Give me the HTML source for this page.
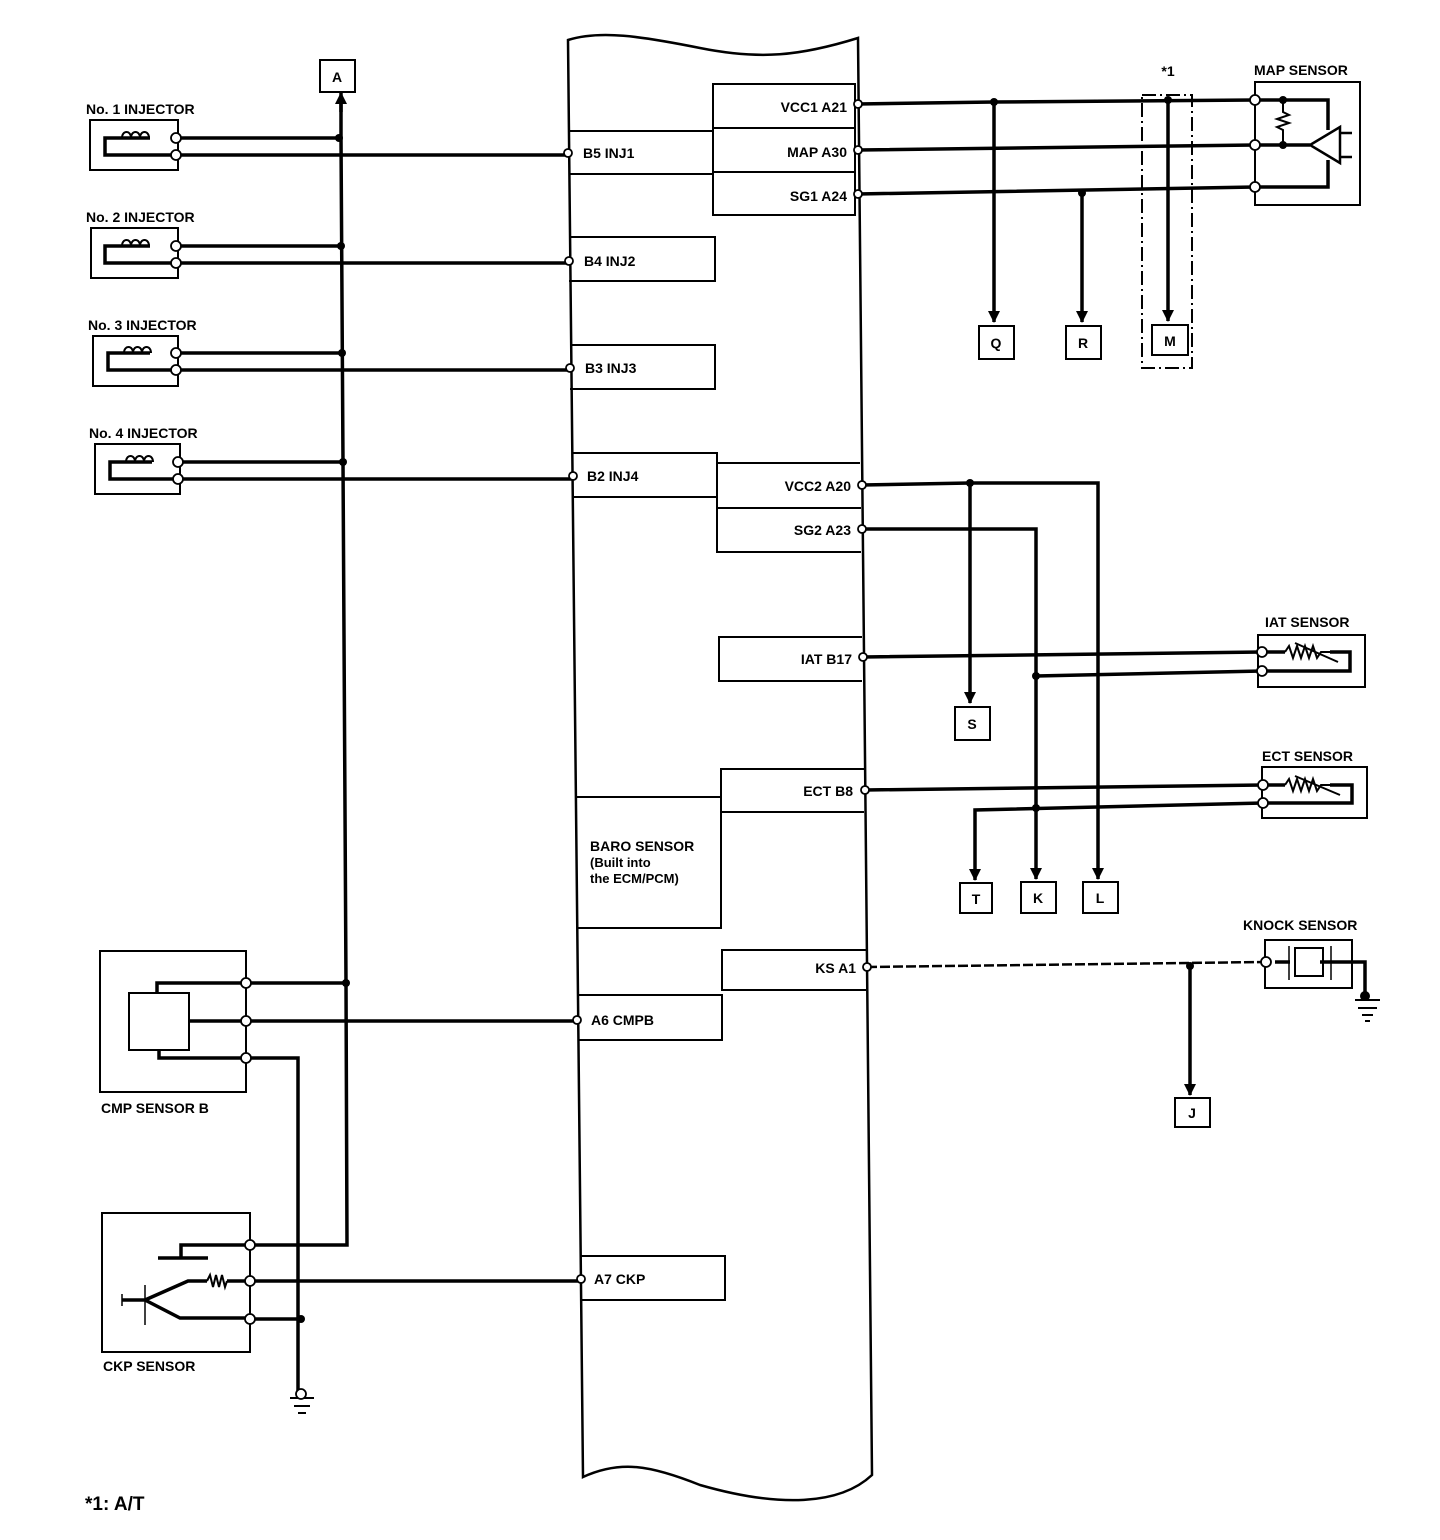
<!DOCTYPE html>
<html><head><meta charset="utf-8"><style>
html,body{margin:0;padding:0;background:#fff;}
svg{display:block;}
text{font-family:"Liberation Sans",sans-serif;font-weight:bold;fill:#000;}
</style></head><body>
<svg width="1440" height="1540" viewBox="0 0 1440 1540" xmlns="http://www.w3.org/2000/svg">
<defs>
<marker id="ar" markerWidth="12" markerHeight="12" refX="11" refY="6" orient="auto" markerUnits="userSpaceOnUse">
<path d="M0,0 L12,6 L0,12 Z" fill="#000"/></marker>
</defs>
<g fill="none" stroke="#000">
<!-- ECM body -->
<path d="M568,40 C600,30 640,36 700,48 C760,60 800,56 858,38 L872,1475 C840,1505 780,1508 700,1485 C650,1465 620,1460 583,1477 Z" stroke-width="2.5"/>
<!-- inner boxes -->
<g stroke-width="2">
<rect x="713" y="84" width="142" height="131"/>
<line x1="713" y1="128" x2="855" y2="128"/><line x1="713" y1="172" x2="855" y2="172"/>
<path d="M568,131 H713 M570,174 H713"/>
<path d="M569,237 H715 V281 H569"/>
<path d="M570,345 H715 V389 H570"/>
<path d="M572,453 H717 V497 H572"/>
<path d="M717,463 H860 M717,497 V552 H861 M717,508 H861"/>
<path d="M862,637 H719 V681 H862"/>
<path d="M864,769 H721 V812 H864 M721,797 H577 M577,928 H721 V797"/>
<path d="M866,950 H722 V990 H866"/>
<path d="M577,995 H722 V1040 H578"/>
<path d="M580,1256 H725 V1300 H581"/>
</g>
<!-- left bus -->
<path d="M341,96 L341,138 L343,462 L346,983 L347,1245 L250,1245" stroke-width="3.5"/>
<path d="M341,112 L341,93" stroke-width="3.5" marker-end="url(#ar)"/>
<rect x="320" y="60" width="35" height="32" stroke-width="2"/>
<!-- injectors -->
<g stroke-width="2">
<path d="M90,120 H178 V170 H90 Z"/>
<path d="M91,228 H178 V278 H91 Z"/>
<path d="M93,336 H178 V386 H93 Z"/>
<path d="M95,444 H180 V494 H95 Z"/>
</g>
<g stroke-width="3.5">
<path d="M176,138 H339 M176,155 H568"/>
<path d="M176,246 H341 M176,263 H569"/>
<path d="M176,353 H342 M176,370 H570"/>
<path d="M178,462 H343 M178,479 H573"/>
<path d="M150,138 H105 V155 H176 M150,246 H105 V263 H176 M150,353 H108 V370 H176 M152,462 H110 V479 H178"/>
</g>
<g stroke-width="2">
<path d="M122,138 c0,-8 9,-8 9,0 c0,-8 9,-8 9,0 c0,-8 9,-8 9,0"/>
<path d="M122,246 c0,-8 9,-8 9,0 c0,-8 9,-8 9,0 c0,-8 9,-8 9,0"/>
<path d="M124,353 c0,-8 9,-8 9,0 c0,-8 9,-8 9,0 c0,-8 9,-8 9,0"/>
<path d="M126,462 c0,-8 9,-8 9,0 c0,-8 9,-8 9,0 c0,-8 9,-8 9,0"/>
</g>
<!-- right top -->
<g stroke-width="3.5">
<path d="M858,104 L994,102 L1255,100 M858,150 L1255,145 M858,194 L1255,187"/>
<path d="M994,102 V322" marker-end="url(#ar)"/>
<path d="M1082,193 V322" marker-end="url(#ar)"/>
<path d="M1168,100 V321" marker-end="url(#ar)"/>
<path d="M1255,100 H1328 V130 M1255,145 H1310 M1255,187 H1328 V160"/>
<path d="M862,485 L970,483 H1098 V800" />
<path d="M970,483 V703" marker-end="url(#ar)"/>
<path d="M1098,800 V879" marker-end="url(#ar)"/>
<path d="M862,529 H1036 V879" marker-end="url(#ar)"/>
<path d="M863,657 L1262,652 M1262,671 L1036,676"/>
<path d="M865,790 L1263,785 M1263,803 L975,810 V880" marker-end="url(#ar)"/>
<path d="M1262,652 H1285 M1262,671 H1350 V652 H1330 M1263,785 H1285 M1263,803 H1352 V785 H1330"/>
<path d="M1190,966 V1095" marker-end="url(#ar)"/>
<path d="M1275,962 H1290 M1320,962 H1365 V996"/>
</g>
<path d="M867,967 L1265,962" stroke-width="2.5" stroke-dasharray="10,3"/>
<rect x="979" y="326" width="35" height="33" stroke-width="2"/>
<rect x="1066" y="326" width="35" height="33" stroke-width="2"/>
<rect x="1152" y="325" width="36" height="30" stroke-width="2"/>
<path d="M1142,95 H1192 V368 H1142 Z" stroke-width="2" stroke-dasharray="14,4,2,4"/>
<rect x="955" y="707" width="35" height="33" stroke-width="2"/>
<rect x="960" y="883" width="32" height="30" stroke-width="2"/>
<rect x="1021" y="882" width="35" height="31" stroke-width="2"/>
<rect x="1083" y="882" width="35" height="31" stroke-width="2"/>
<rect x="1175" y="1098" width="35" height="29" stroke-width="2"/>
<!-- MAP sensor -->
<path d="M1255,82 H1360 V205 H1255 Z" stroke-width="2"/>
<path d="M1283,100 V112 l6,3 l-12,4 l12,4 l-12,4 l6,3 V145" stroke-width="2"/>
<path d="M1310,145 L1340,127 V163 Z M1340,133 H1352 M1340,157 H1352" stroke-width="2.5"/>
<!-- IAT / ECT -->
<path d="M1258,635 H1365 V687 H1258 Z" stroke-width="2"/>
<path d="M1262,767 H1367 V818 H1262 Z" stroke-width="2"/>
<path d="M1285,652 l4,-6 l4,12 l4,-12 l4,12 l4,-12 l4,12 l4,-12 l4,12 l4,-6 H1330 M1295,643 L1338,662" stroke-width="2"/>
<path d="M1285,785 l4,-6 l4,12 l4,-12 l4,12 l4,-12 l4,12 l4,-12 l4,12 l4,-6 H1330 M1295,776 L1340,795" stroke-width="2"/>
<!-- knock -->
<path d="M1265,940 H1352 V988 H1265 Z" stroke-width="2"/>
<rect x="1295" y="948" width="28" height="28" stroke-width="2"/>
<path d="M1289,946 V980 M1331,946 V980" stroke-width="1.5"/>
<path d="M1355,1000 H1380 M1358,1008 H1377 M1362,1015 H1373 M1365,1021 H1370" stroke-width="2"/>
<!-- CMP -->
<path d="M100,951 H246 V1092 H100 Z" stroke-width="2"/>
<rect x="129" y="993" width="60" height="57" stroke-width="2"/>
<g stroke-width="3.5">
<path d="M157,993 V983 H346 M189,1021 H577 M159,1050 V1058 H298 V1395"/>
<path d="M250,1245 H181 V1258 M158,1258 H208"/>
<path d="M250,1281 H227 M207,1281 H188 L145,1300 M145,1300 L180,1318 H250 M122,1300 H145 M250,1281 H581 M250,1319 H301"/>
</g>
<path d="M207,1281 l3,-6 l3,12 l3,-12 l3,12 l3,-12 l3,12 l2,-6" stroke-width="2"/>
<path d="M145,1285 V1325 M122,1294 V1306" stroke-width="1.5"/>
<path d="M102,1213 H250 V1352 H102 Z" stroke-width="2"/>
<path d="M290,1398 H314 M294,1406 H310 M298,1413 H306" stroke-width="2"/>
</g>
<!-- dots -->
<g fill="#000">
<circle cx="339" cy="138" r="4"/><circle cx="341" cy="246" r="4"/><circle cx="342" cy="353" r="4"/><circle cx="343" cy="462" r="4"/>
<circle cx="346" cy="983" r="4"/><circle cx="301" cy="1319" r="4"/>
<circle cx="994" cy="102" r="4"/><circle cx="1082" cy="193" r="4"/><circle cx="1168" cy="100" r="4"/>
<circle cx="1283" cy="100" r="4"/><circle cx="1283" cy="145" r="4"/>
<circle cx="970" cy="483" r="4"/><circle cx="1036" cy="676" r="4"/><circle cx="1036" cy="808" r="4"/><circle cx="1190" cy="966" r="4"/>
<circle cx="1365" cy="996" r="5"/>
</g>
<!-- terminals -->
<g fill="#fff" stroke="#000" stroke-width="1.8">
<circle cx="176" cy="138" r="5"/><circle cx="176" cy="155" r="5"/>
<circle cx="176" cy="246" r="5"/><circle cx="176" cy="263" r="5"/>
<circle cx="176" cy="353" r="5"/><circle cx="176" cy="370" r="5"/>
<circle cx="178" cy="462" r="5"/><circle cx="178" cy="479" r="5"/>
<circle cx="568" cy="153" r="4"/><circle cx="569" cy="261" r="4"/><circle cx="570" cy="368" r="4"/><circle cx="573" cy="476" r="4"/>
<circle cx="858" cy="104" r="4"/><circle cx="858" cy="150" r="4"/><circle cx="858" cy="194" r="4"/>
<circle cx="862" cy="485" r="4"/><circle cx="862" cy="529" r="4"/><circle cx="863" cy="657" r="4"/><circle cx="865" cy="790" r="4"/><circle cx="867" cy="967" r="4"/>
<circle cx="577" cy="1020" r="4"/><circle cx="581" cy="1279" r="4"/>
<circle cx="1255" cy="100" r="5"/><circle cx="1255" cy="145" r="5"/><circle cx="1255" cy="187" r="5"/>
<circle cx="1262" cy="652" r="5"/><circle cx="1262" cy="671" r="5"/><circle cx="1263" cy="785" r="5"/><circle cx="1263" cy="803" r="5"/>
<circle cx="1266" cy="962" r="5"/>
<circle cx="246" cy="983" r="5"/><circle cx="246" cy="1021" r="5"/><circle cx="246" cy="1058" r="5"/>
<circle cx="250" cy="1245" r="5"/><circle cx="250" cy="1281" r="5"/><circle cx="250" cy="1319" r="5"/>
<circle cx="301" cy="1394" r="5"/>
</g>
<!-- labels -->
<g font-size="14">
<text x="337" y="82" text-anchor="middle">A</text>
<text x="86" y="114">No. 1 INJECTOR</text>
<text x="86" y="222">No. 2 INJECTOR</text>
<text x="88" y="330">No. 3 INJECTOR</text>
<text x="89" y="438">No. 4 INJECTOR</text>
<text x="583" y="158">B5 INJ1</text>
<text x="584" y="266">B4 INJ2</text>
<text x="585" y="373">B3 INJ3</text>
<text x="587" y="481">B2 INJ4</text>
<text x="847" y="112" text-anchor="end">VCC1 A21</text>
<text x="847" y="157" text-anchor="end">MAP A30</text>
<text x="847" y="201" text-anchor="end">SG1 A24</text>
<text x="851" y="491" text-anchor="end">VCC2 A20</text>
<text x="851" y="535" text-anchor="end">SG2 A23</text>
<text x="852" y="664" text-anchor="end">IAT B17</text>
<text x="853" y="796" text-anchor="end">ECT B8</text>
<text x="856" y="973" text-anchor="end">KS A1</text>
<text x="590" y="851">BARO SENSOR</text>
<text x="590" y="867" font-size="13">(Built into</text>
<text x="590" y="883" font-size="13">the ECM/PCM)</text>
<text x="591" y="1025">A6 CMPB</text>
<text x="594" y="1284">A7 CKP</text>
<text x="996" y="348" text-anchor="middle">Q</text>
<text x="1083" y="348" text-anchor="middle">R</text>
<text x="1170" y="346" text-anchor="middle">M</text>
<text x="1168" y="76" text-anchor="middle">*1</text>
<text x="1254" y="75">MAP SENSOR</text>
<text x="972" y="729" text-anchor="middle">S</text>
<text x="976" y="904" text-anchor="middle">T</text>
<text x="1038" y="903" text-anchor="middle">K</text>
<text x="1100" y="903" text-anchor="middle">L</text>
<text x="1192" y="1118" text-anchor="middle">J</text>
<text x="1265" y="627">IAT SENSOR</text>
<text x="1262" y="761">ECT SENSOR</text>
<text x="1243" y="930">KNOCK SENSOR</text>
<text x="101" y="1113">CMP SENSOR B</text>
<text x="103" y="1371">CKP SENSOR</text>
<text x="85" y="1510" font-size="19">*1: A/T</text>
</g>
</svg>
</body></html>
